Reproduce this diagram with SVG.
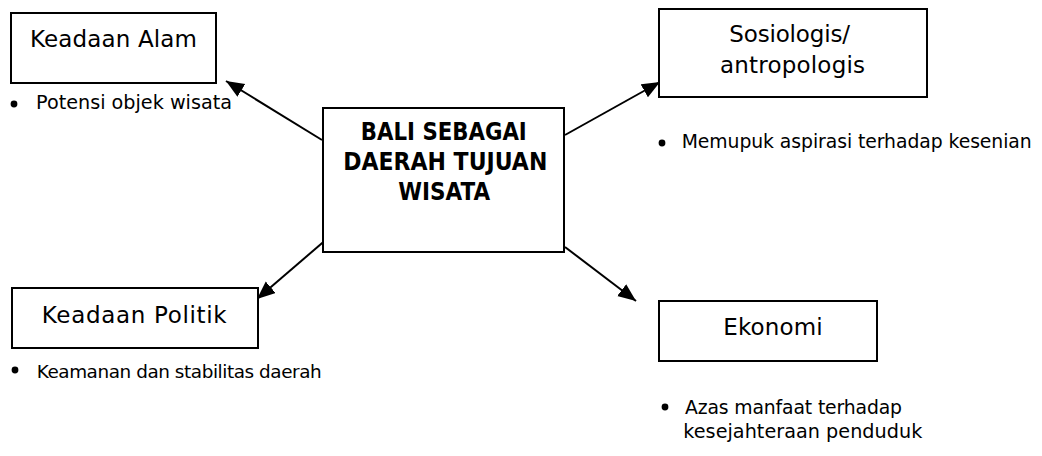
<svg xmlns="http://www.w3.org/2000/svg" width="1042" height="456" viewBox="0 0 1042 456">
  <style>
    .box { fill: #ffffff; stroke: #000000; stroke-width: 2; }
    .lbl { font-family: "DejaVu Sans", "Liberation Sans", sans-serif; font-size: 23px; fill: #000000; }
    .ttl { font-family: "DejaVu Sans", "Liberation Sans", sans-serif; font-size: 25px; font-weight: bold; fill: #000000; }
    .note { font-family: "DejaVu Sans", "Liberation Sans", sans-serif; font-size: 18.8px; fill: #000000; }
    .dot { fill: #000000; }
    .link { fill: none; stroke: #000000; stroke-width: 2; marker-end: url(#head); }
  </style>
  <defs>
    <marker id="head" markerUnits="userSpaceOnUse" markerWidth="19" markerHeight="16" refX="18" refY="7.5" orient="auto">
      <path d="M0,0 L18,7.5 L0,15 z" fill="#000000"/>
    </marker>
  </defs>
  <rect width="1042" height="456" fill="#ffffff"/>

  <!-- connectors from the central topic -->
  <g id="connectors">
    <line class="link" x1="322" y1="140" x2="226" y2="81"/>
    <line class="link" x1="565" y1="135" x2="660" y2="82"/>
    <line class="link" x1="328" y1="238" x2="257" y2="299"/>
    <line class="link" x1="565" y1="247" x2="636" y2="301"/>
  </g>

  <!-- central topic -->
  <g id="bali">
    <rect class="box" x="323" y="108" width="241" height="144"/>
    <text class="ttl" x="443.8" y="140" text-anchor="middle" textLength="166" lengthAdjust="spacingAndGlyphs">BALI SEBAGAI</text>
    <text class="ttl" x="445.3" y="170" text-anchor="middle" textLength="204" lengthAdjust="spacingAndGlyphs">DAERAH TUJUAN</text>
    <text class="ttl" x="444.2" y="200" text-anchor="middle" textLength="92" lengthAdjust="spacingAndGlyphs">WISATA</text>
  </g>

  <!-- natural conditions -->
  <g id="keadaan-alam">
    <rect class="box" x="11" y="13" width="205" height="70"/>
    <text class="lbl" x="30" y="47" textLength="167">Keadaan Alam</text>
    <circle class="dot" cx="14" cy="104" r="3.4"/>
    <text class="note" x="36" y="108.5" style="font-size:19.2px" textLength="196">Potensi objek wisata</text>
  </g>

  <!-- sociology / anthropology -->
  <g id="sosiologis">
    <rect class="box" x="659" y="9" width="268" height="88"/>
    <text class="lbl" x="729.3" y="41.7" textLength="120.7">Sosiologis/</text>
    <text class="lbl" x="720" y="73.3" textLength="145">antropologis</text>
    <circle class="dot" cx="662" cy="143" r="3.4"/>
    <text class="note" x="681.7" y="147.5" textLength="350">Memupuk aspirasi terhadap kesenian</text>
  </g>

  <!-- political conditions -->
  <g id="keadaan-politik">
    <rect class="box" x="12" y="288" width="246" height="60"/>
    <text class="lbl" x="41.7" y="323.3" textLength="185">Keadaan Politik</text>
    <circle class="dot" cx="15" cy="370" r="3.4"/>
    <text class="note" x="36.7" y="377.7" style="font-size:18.4px" textLength="285">Keamanan dan stabilitas daerah</text>
  </g>

  <!-- economy -->
  <g id="ekonomi">
    <rect class="box" x="659" y="301" width="218" height="60"/>
    <text class="lbl" x="723.3" y="335" textLength="99.4">Ekonomi</text>
    <circle class="dot" cx="665" cy="407" r="3.4"/>
    <text class="note" x="685" y="413.5" textLength="217">Azas manfaat terhadap</text>
    <text class="note" x="683.3" y="438" style="font-size:19.2px" textLength="239">kesejahteraan penduduk</text>
  </g>
</svg>
